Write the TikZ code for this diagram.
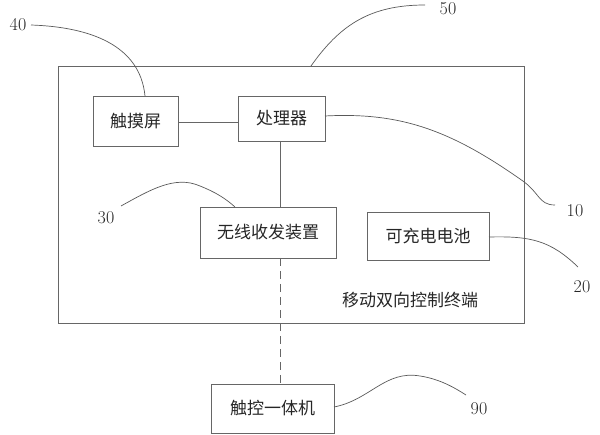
\documentclass[tikz,border=0pt]{standalone}
\usepackage{fontspec}
\newfontfamily\cjk{Noto Sans CJK SC}
\begin{document}
\begin{tikzpicture}[x=1pt,y=-1pt,
  box/.style={draw=black!60,line width=0.8pt},
  cn/.style={font=\cjk\fontsize{17}{19}\selectfont,text=black!85},
  num/.style={font=\fontsize{18}{20}\selectfont,text=black!85},
  lead/.style={draw=black!65,line width=0.7pt},
  conn/.style={draw=black!60,line width=0.8pt}]
\useasboundingbox (0,0) rectangle (600,435);
% outer frame
\draw[box] (58,66) rectangle (524,323);
\node[cn] (term) at (410,300) {移动双向控制终端};
% boxes
\draw[box] (93,96) rectangle (178,146);
\node[cn] (touch) at (135.5,121) {触摸屏};
\coordinate (touchE) at (178,122);
\coordinate (touchN) at (145,96);
\draw[box] (238,96) rectangle (325,141);
\node[cn] (cpu) at (281.5,118.5) {处理器};
\coordinate (cpuW) at (238,122);
\coordinate (cpuS) at (280,141);
\coordinate (cpuE) at (325,116);
\draw[box] (200,207) rectangle (336,258);
\node[cn] (wifi) at (268,232.5) {无线收发装置};
\coordinate (wifiN) at (280,207);
\coordinate (wifiS) at (280,258);
\coordinate (wifiNL) at (235,207);
\draw[box] (367,212) rectangle (489,260);
\node[cn] (bat) at (428,236) {可充电电池};
\coordinate (batE) at (489,237);
\draw[box] (211,384) rectangle (334,433);
\node[cn] (pc) at (272.5,408.5) {触控一体机};
\coordinate (pcN) at (280,384);
\coordinate (pcE) at (334,407);
\coordinate (frameT) at (311,66);
% connectors
\draw[conn] (touchE) -- (cpuW);
\draw[conn] (cpuS) -- (wifiN);
\draw[conn,dashed,dash pattern=on 8pt off 5pt] (wifiS) -- (pcN);
% labels
\node[num] (n40) at (18,25) {40};
\node[num] (n50) at (448,9) {50};
\node[num] (n10) at (575,211) {10};
\node[num] (n30) at (106,218) {30};
\node[num] (n20) at (582,287) {20};
\node[num] (n90) at (479,409) {90};
\coordinate (e40) at (31,25);
\coordinate (e50) at (425,5);
\coordinate (e10) at (520,179);
\coordinate (e10b) at (555,205);
\coordinate (e30) at (121,206);
\coordinate (e20) at (578,267);
\coordinate (e90) at (466,395);
\draw[lead] (e40) .. controls (90,27) and (140,45) .. (touchN);
\draw[lead] (frameT) .. controls (340,25) and (370,5) .. (e50);
\draw[lead] (cpuE) .. controls (400,112) and (450,130) .. (e10) .. controls (540,192) and (538,205) .. (e10b);
\draw[lead] (e30) .. controls (150,190) and (175,175) .. (200,186) .. controls (215,192) and (225,198) .. (wifiNL);
\draw[lead] (batE) .. controls (530,236) and (550,240) .. (e20);
\draw[lead] (pcE) .. controls (370,400) and (385,370) .. (420,376) .. controls (440,379) and (455,388) .. (e90);
\end{tikzpicture}
\end{document}
